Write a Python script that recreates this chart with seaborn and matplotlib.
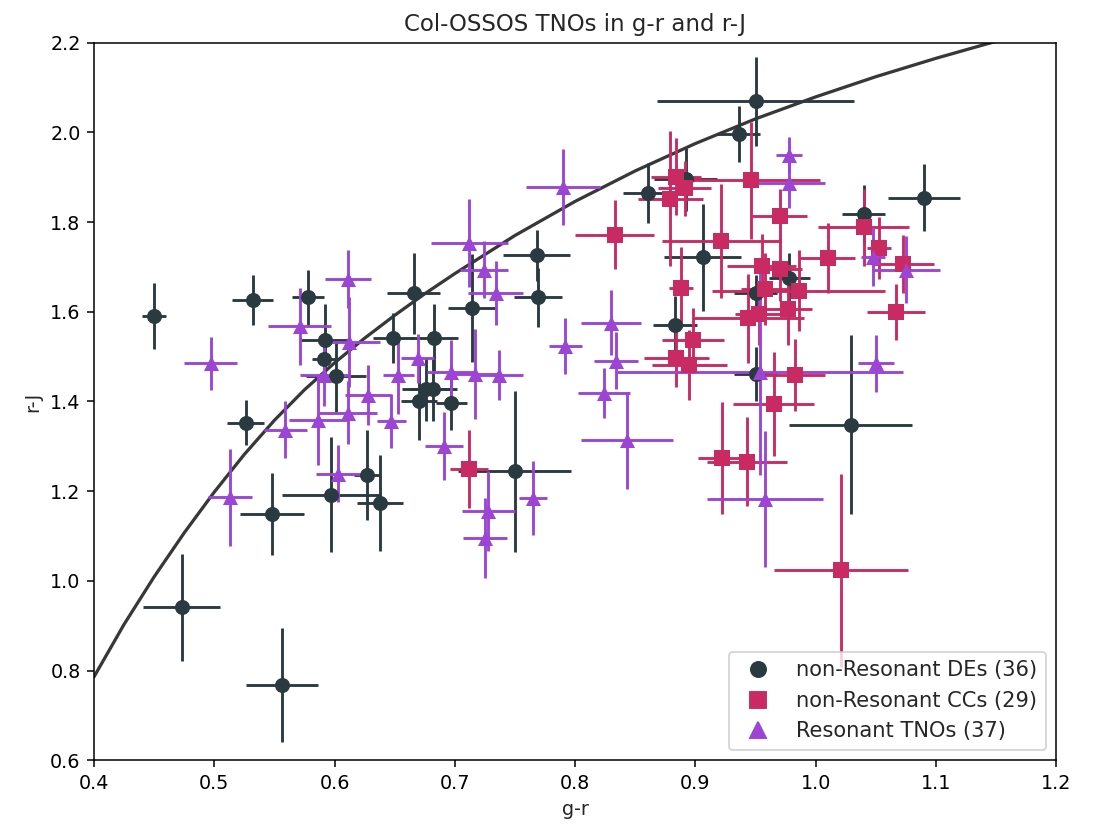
import seaborn as sns
import pandas as pd
import matplotlib.pyplot as plt
from matplotlib.lines import Line2D

# non-Resonant dynamically excited objects
de_gr = [0.450, 0.532, 0.578, 0.592, 0.591, 0.601, 0.666, 0.649, 0.526, 0.627,
         0.597, 0.638, 0.548, 0.473, 0.556, 0.683, 0.714, 0.768, 0.769, 0.861,
         0.906, 0.883, 0.892, 0.950, 0.936, 0.978, 0.950, 1.040, 1.090, 0.950,
         1.029, 0.750, 0.676, 0.682, 0.670, 0.697]
de_rj = [1.591, 1.626, 1.632, 1.537, 1.494, 1.457, 1.641, 1.541, 1.353, 1.236,
         1.192, 1.173, 1.149, 0.941, 0.768, 1.542, 1.608, 1.726, 1.632, 1.865,
         1.721, 1.570, 1.895, 2.069, 1.996, 1.676, 1.641, 1.817, 1.854, 1.462,
         1.348, 1.244, 1.427, 1.427, 1.400, 1.397]
de_gr_err = [0.010, 0.017, 0.013, 0.020, 0.010, 0.025, 0.022, 0.017, 0.015, 0.011,
             0.041, 0.019, 0.027, 0.032, 0.030, 0.020, 0.020, 0.028, 0.020, 0.021,
             0.032, 0.018, 0.026, 0.082, 0.018, 0.017, 0.018, 0.018, 0.030, 0.018,
             0.051, 0.047, 0.020, 0.020, 0.015, 0.013]
de_rj_err = [0.073, 0.055, 0.062, 0.080, 0.030, 0.080, 0.090, 0.056, 0.051, 0.100,
             0.128, 0.107, 0.091, 0.119, 0.127, 0.075, 0.120, 0.057, 0.065, 0.067,
             0.120, 0.065, 0.070, 0.100, 0.062, 0.055, 0.040, 0.065, 0.075, 0.060,
             0.200, 0.180, 0.070, 0.070, 0.087, 0.060]

# non-Resonant cold classicals
cc_gr = [0.884, 0.879, 0.891, 0.946, 0.970, 0.921, 0.888, 0.898, 0.884, 0.955,
         0.970, 0.958, 0.986, 1.010, 1.040, 1.053, 1.073, 1.067, 0.944, 0.953,
         0.977, 0.833, 0.895, 0.983, 0.965, 0.922, 0.943, 1.021, 0.712]
cc_rj = [1.901, 1.852, 1.875, 1.893, 1.813, 1.757, 1.654, 1.538, 1.497, 1.703,
         1.695, 1.650, 1.647, 1.720, 1.788, 1.742, 1.707, 1.599, 1.585, 1.595,
         1.606, 1.772, 1.481, 1.459, 1.394, 1.274, 1.266, 1.024, 1.250]
cc_gr_err = [0.021, 0.027, 0.022, 0.058, 0.023, 0.049, 0.010, 0.026, 0.027, 0.029,
             0.019, 0.020, 0.072, 0.023, 0.038, 0.010, 0.025, 0.024, 0.046, 0.020,
             0.020, 0.033, 0.031, 0.025, 0.034, 0.020, 0.033, 0.056, 0.016]
cc_rj_err = [0.086, 0.150, 0.062, 0.130, 0.060, 0.127, 0.090, 0.070, 0.065, 0.070,
             0.070, 0.080, 0.090, 0.078, 0.086, 0.069, 0.065, 0.062, 0.100, 0.070,
             0.080, 0.076, 0.078, 0.080, 0.116, 0.124, 0.100, 0.215, 0.087]

# resonant TNOs
res_gr = [0.497, 0.571, 0.611, 0.612, 0.591, 0.628, 0.653, 0.611, 0.586, 0.559,
          0.647, 0.603, 0.513, 0.790, 0.712, 0.724, 0.734, 0.792, 0.830, 0.834,
          0.824, 0.843, 0.697, 0.717, 0.737, 0.669, 0.691, 0.728, 0.725, 0.765,
          0.978, 0.978, 1.048, 1.075, 1.050, 0.954, 0.958]
res_rj = [1.485, 1.568, 1.673, 1.533, 1.459, 1.414, 1.459, 1.375, 1.358, 1.337,
          1.356, 1.239, 1.186, 1.878, 1.753, 1.694, 1.641, 1.523, 1.576, 1.491,
          1.418, 1.313, 1.466, 1.461, 1.459, 1.496, 1.300, 1.156, 1.096, 1.185,
          1.949, 1.886, 1.723, 1.694, 1.485, 1.466, 1.183]
res_gr_err = [0.022, 0.026, 0.019, 0.026, 0.020, 0.019, 0.013, 0.024, 0.024, 0.018,
              0.012, 0.018, 0.018, 0.031, 0.032, 0.020, 0.023, 0.014, 0.025, 0.018,
              0.022, 0.038, 0.020, 0.020, 0.020, 0.014, 0.016, 0.022, 0.018, 0.012,
              0.011, 0.030, 0.010, 0.028, 0.015, 0.119, 0.048]
res_rj_err = [0.059, 0.086, 0.064, 0.100, 0.070, 0.067, 0.086, 0.070, 0.100, 0.064,
              0.060, 0.064, 0.109, 0.084, 0.098, 0.063, 0.071, 0.062, 0.073, 0.064,
              0.056, 0.108, 0.070, 0.100, 0.056, 0.055, 0.076, 0.090, 0.089, 0.083,
              0.040, 0.054, 0.065, 0.075, 0.064, 0.231, 0.152]

# reference curve
curve_gr = [0.400, 0.425, 0.450, 0.475, 0.500, 0.525, 0.550, 0.575, 0.600, 0.625,
            0.650, 0.675, 0.700, 0.750, 0.800, 0.850, 0.900, 0.950, 1.000, 1.050,
            1.100, 1.150]
curve_rj = [0.786, 0.903, 1.009, 1.107, 1.198, 1.282, 1.358, 1.426, 1.486, 1.541,
            1.592, 1.640, 1.685, 1.770, 1.846, 1.914, 1.975, 2.030, 2.079, 2.124,
            2.165, 2.203]


def build_groups():
    """Collect each population into a DataFrame"""
    groups = [
        ("non-Resonant DEs", "o", "#2a3a41", de_gr, de_rj, de_gr_err, de_rj_err),
        ("non-Resonant CCs", "s", "#c92a62", cc_gr, cc_rj, cc_gr_err, cc_rj_err),
        ("Resonant TNOs", "^", "#9c44d4", res_gr, res_rj, res_gr_err, res_rj_err),
    ]
    out = []
    for name, marker, color, x, y, xe, ye in groups:
        df = pd.DataFrame({"g-r": x, "r-J": y, "xerr": xe, "yerr": ye})
        out.append((f"{name} ({len(df)})", marker, color, df))
    return out


def main():
    sns.set_style("ticks")
    plt.rcParams['font.family'] = ['DejaVu Sans']
    plt.rcParams['xtick.direction'] = 'out'
    plt.rcParams['ytick.direction'] = 'out'

    fig = plt.figure(figsize=(8, 6.114), dpi=137.4)
    ax = fig.add_axes([0.0855, 0.0949, 0.8754, 0.8543])

    groups = build_groups()

    curve = pd.DataFrame({"g-r": curve_gr, "r-J": curve_rj})
    sns.lineplot(data=curve, x="g-r", y="r-J", ax=ax, color="#222222",
                 alpha=0.9, linewidth=1.7, sort=False, zorder=1)

    # error bars first, markers on top
    for label, marker, color, df in groups:
        ax.errorbar(df["g-r"], df["r-J"], xerr=df["xerr"], yerr=df["yerr"],
                    fmt="none", ecolor=color, elinewidth=1.5, capsize=0, zorder=2)
    handles = []
    for label, marker, color, df in groups:
        sns.scatterplot(data=df, x="g-r", y="r-J", ax=ax, marker=marker,
                        color=color, s=62, linewidth=0, zorder=3)
        handles.append(Line2D([], [], marker=marker, color=color, linestyle="none",
                              markersize=7.9, label=label))

    ax.set_xlim(0.4, 1.2)
    ax.set_ylim(0.6, 2.2)
    ax.set_xticks([0.4, 0.5, 0.6, 0.7, 0.8, 0.9, 1.0, 1.1, 1.2])
    ax.set_yticks([0.6, 0.8, 1.0, 1.2, 1.4, 1.6, 1.8, 2.0, 2.2])
    for sp in ax.spines.values():
        sp.set_color("black")
        sp.set_linewidth(0.8)
    ax.tick_params(colors="black", labelsize=10, length=3.5, width=0.8)
    ax.set_xlabel("g-r", fontsize=10)
    ax.set_ylabel("r-J", fontsize=10)
    ax.set_title("Col-OSSOS TNOs in g-r and r-J", fontsize=12)
    ax.legend(handles=handles, loc="lower right", fontsize=11, frameon=True)

    fig.savefig("out.png", dpi=137.4)
    plt.close(fig)


if __name__ == "__main__":
    main()
